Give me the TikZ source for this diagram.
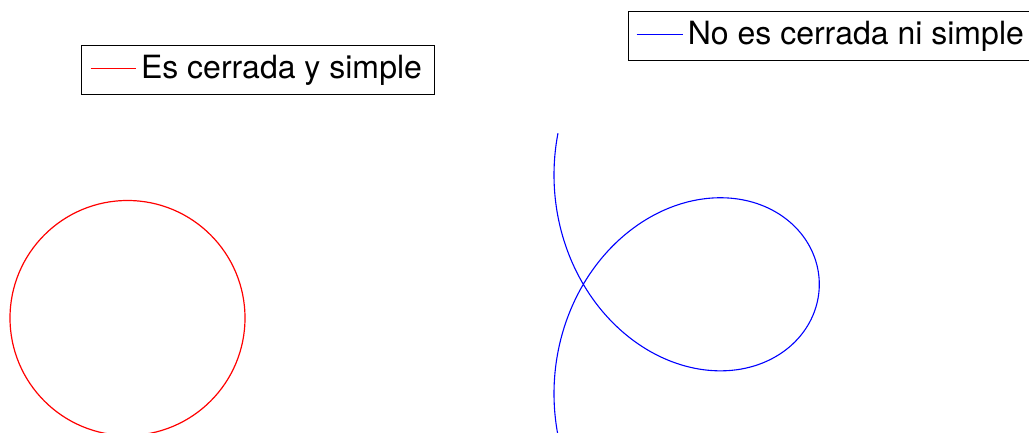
\documentclass[tikz,border=0pt]{standalone}
\usepackage{fontspec}
\setmainfont{TeX Gyre Heros}
\begin{document}
\begin{tikzpicture}[x=1pt,y=-1pt,
  keybox/.style={draw=black,line width=0.9pt,inner sep=0pt,minimum width=#1,minimum height=49pt},
  keytext/.style={anchor=base west,inner sep=0pt,font=\fontsize{32}{38}\selectfont},
  curvered/.style={draw=red,line width=1.2pt},
  curveblue/.style={draw=blue,line width=1.1pt}]
\useasboundingbox (0,0) rectangle (1029,433);
\clip (0,0) rectangle (1029,433);
% legend 1
\node[keybox=352.6pt] (key1) at (258,69.6) {};
\coordinate (r1) at (90.7,69);
\coordinate (r2) at (135.7,69);
\draw[red,line width=1pt] (r1) -- (r2);
\node[keytext] (t1) at (140.8,79) {Es cerrada y simple};
% legend 2
\node[keybox=411.7pt,minimum height=48.3pt] (key2) at (834.2,35.9) {};
\coordinate (b1) at (636.7,35);
\coordinate (b2) at (682.7,35);
\draw[blue,line width=1pt] (b1) -- (b2);
\node[keytext] (t2) at (687.6,45) {No es cerrada ni simple};
% red circle
\draw[curvered] (127.5,318) circle[radius=117.5];
% blue curve
\draw[curveblue] plot[domain=-3.387:3.387,samples=300,smooth,variable=\t]
  ({686.65+132.65*cos(\t r)},{284.3-34.8*(3.93*sin(\t r)-\t)});
\end{tikzpicture}
\end{document}
